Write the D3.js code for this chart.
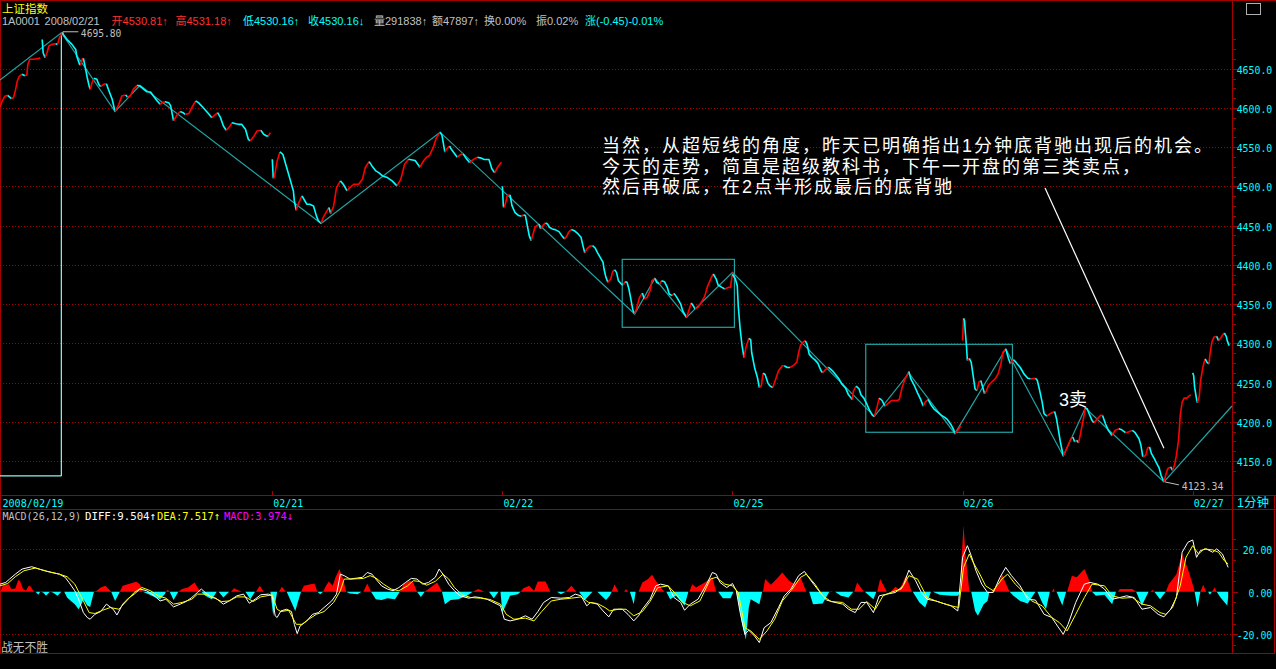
<!DOCTYPE html>
<html><head><meta charset="utf-8">
<script src="https://cdn.jsdelivr.net/npm/d3@7"></script>
<style>
html,body{margin:0;padding:0;background:#000;overflow:hidden}
svg{display:block;background:#000}
</style></head><body>
<svg id="c" width="1276" height="669"></svg>
<script>
// ===== DATA =====
const dateLabels = ["2008/02/19","02/21","02/22","02/25","02/26","02/27"];
const dateLabelDays = [0,2,3,4,5,6];        // day index (02/19=0, 02/20=1, ...)
const priceTicks = [4150,4200,4250,4300,4350,4400,4450,4500,4550,4600,4650];
const macdTicks = [20,0,-20];
// 1-minute prices, per trading day: [minute of day, price]
const p0219 = [[196,4601],[198,4608],[201,4615],[204,4616],[208,4612],[210,4613],[212,4622],[214,4634],[216,4640],[219,4643],[222,4641],[224,4642],[225,4655],[227,4662],[231,4662],[236,4663],[238,4664]];
const p0220 = [[0,4687.3],[1,4670.4],[3,4664],[5,4670.4],[7,4678.9],[10,4681],[14,4681.8],[16,4681],[18,4689.5],[21,4695.8],[22,4693.7],[26,4687.3],[31,4681],[35,4674.6],[36,4666.1],[39,4655.5],[40,4654.7],[42,4662.7],[43,4663.2],[45,4651.3],[47,4638.5],[49,4627.9],[50,4623.7],[52,4632.2],[54,4637.7],[57,4636.4],[59,4630.1],[61,4627.1],[64,4630.1],[67,4630.9],[69,4623.7],[73,4611],[76,4595.3],[80,4604.6],[83,4615.2],[87,4616.5],[89,4613.9],[92,4615.2],[95,4623.7],[99,4628.8],[102,4627.9],[106,4623.7],[109,4620.7],[113,4620.3],[116,4615.2],[120,4608.8],[123,4604.6],[125,4606.7],[128,4608],[132,4606.7],[134,4602.5],[137,4583.4],[141,4591.9],[144,4595.3],[147,4594],[149,4591.9],[153,4592.7],[156,4600.3],[160,4608.8],[163,4606.7],[168,4600.3],[174,4591.9],[177,4587.6],[181,4591.9],[183,4594],[186,4587.6],[189,4577],[192,4571.5],[196,4577],[198,4581.2],[202,4579.9],[205,4579.1],[208,4579.1],[212,4572.8],[215,4560],[217,4557.9],[221,4564.3],[224,4570.6],[228,4571.5],[231,4566.4],[234,4564.3],[236,4564.3],[238,4568.5]];
const p0221 = [[0,4534.6],[1,4510.4],[2,4511],[5,4532],[8,4543.9],[11,4540.9],[15,4524],[19,4507],[22,4494.2],[23,4481.5],[25,4469.6],[27,4477.3],[31,4487.9],[33,4483.6],[36,4477.3],[39,4477.3],[43,4475.1],[46,4462.4],[48,4456.1],[51,4452.7],[53,4460.3],[57,4468.8],[59,4473],[61,4465.4],[64,4475.1],[67,4498.5],[71,4507],[74,4502.7],[78,4494.2],[81,4498.5],[85,4502.7],[90,4502.7],[94,4509],[97,4524],[101,4531.6],[104,4526.1],[108,4519.7],[111,4517.6],[115,4513.3],[120,4511.2],[125,4507],[130,4500.6],[134,4509],[138,4528.2],[142,4534.6],[149,4533],[154,4524.5],[158,4533],[161,4537.2],[164,4539.4],[168,4550],[171,4561.5],[175,4569.1],[177,4564.9],[180,4543.6],[182,4547.9],[185,4551.3],[186,4548.7],[189,4543.6],[193,4537.2],[196,4540.2],[199,4541.5],[202,4536],[206,4530],[209,4533.8],[214,4537.2],[218,4536],[221,4534.3],[226,4534.3],[229,4522.4],[232,4517.3],[235,4524.5],[239,4530.9]];
const p0222 = [[0,4500.2],[1,4474.7],[2,4473.4],[4,4481.9],[5,4488.3],[8,4489.2],[10,4475.5],[13,4467],[17,4462.8],[20,4461.9],[22,4463.6],[24,4462.8],[26,4450],[28,4437.2],[30,4430.9],[32,4439.4],[34,4447.9],[38,4452.1],[40,4445.8],[42,4450],[45,4453.4],[47,4452.1],[49,4447.9],[52,4445.8],[55,4444.9],[59,4442.3],[62,4437.2],[65,4433],[67,4436.4],[69,4441.5],[72,4444.9],[75,4443.6],[79,4439.4],[82,4435.1],[84,4424.5],[86,4415.1],[88,4420.2],[91,4423.6],[94,4424.5],[97,4421.1],[99,4416],[102,4409.6],[105,4403.2],[106,4394.7],[108,4384.1],[110,4377.7],[113,4381.9],[115,4391.3],[117,4393.8],[119,4390.4],[121,4379.8],[124,4375.5],[126,4374.3],[128,4378.5],[130,4377.7],[132,4369.2],[134,4356.4],[136,4342.8],[138,4337.3],[140,4344.5],[143,4358.5],[146,4364],[148,4356.4],[151,4358.5],[154,4367],[156,4379.8],[159,4382.8],[161,4377.7],[164,4375.5],[166,4379.8],[169,4378.5],[172,4371.3],[174,4362.8],[177,4360.7],[179,4363.6],[182,4358.5],[186,4350],[188,4341.5],[192,4333],[194,4340.2],[197,4351.3],[199,4347.9],[201,4343.6],[204,4345.8],[207,4351.3],[211,4359.8],[214,4372.6],[218,4384.1],[220,4388.3],[223,4381.9],[225,4374.3],[229,4371.3],[232,4369.2],[236,4371.3],[238,4371.3],[240,4390.4]];
const p0225 = [[0,4388],[3,4382],[5,4373.4],[6,4347.9],[8,4318.1],[10,4296.8],[12,4281.9],[14,4294.7],[17,4306.2],[19,4304.5],[20,4288.3],[23,4269.2],[26,4256.4],[28,4243.6],[30,4245.8],[32,4261.9],[34,4260.2],[37,4249.2],[39,4245.8],[42,4243.6],[45,4254.3],[48,4264.9],[52,4271.3],[54,4271.3],[57,4269.2],[60,4269.2],[64,4272.2],[67,4275.6],[69,4288.3],[71,4297.7],[74,4301.9],[76,4303.2],[78,4297.7],[80,4286.2],[83,4281.9],[86,4278.9],[89,4274.7],[92,4266],[94,4262.3],[97,4266.5],[100,4269.5],[104,4265.3],[107,4261],[111,4254.7],[114,4248.3],[118,4242.8],[121,4234.3],[125,4228.4],[126,4238.6],[129,4245.3],[132,4242],[134,4234.3],[137,4230.1],[140,4222.9],[143,4214.4],[146,4208.1],[148,4206.8],[151,4219.9],[153,4230.1],[156,4227.1],[159,4219.9],[163,4224.2],[166,4227.1],[172,4227.1],[174,4228.4],[177,4244.1],[180,4254.7],[184,4264],[186,4254.7],[190,4245.3],[193,4236.9],[196,4229.2],[199,4219.9],[201,4225],[204,4228.4],[207,4221.6],[210,4216.5],[214,4212.3],[218,4208.1],[221,4205.9],[224,4203],[228,4196.2],[231,4189],[232,4184.8],[235,4189],[238,4194.5]];
const p0226 = [[0,4303.4],[1,4331.8],[2,4328.8],[3,4311.9],[4,4297],[5,4278],[7,4280.9],[9,4275.8],[11,4258.9],[13,4242],[15,4239.8],[17,4250.4],[19,4252.5],[21,4244.1],[23,4235.6],[25,4239.8],[27,4246.2],[31,4251.3],[34,4254.7],[37,4261],[40,4273.7],[42,4288.6],[45,4292.8],[46,4288.6],[48,4280.1],[50,4273.7],[53,4279.2],[55,4276.7],[57,4273.7],[60,4269.5],[62,4265.3],[64,4261],[68,4255.5],[71,4254.7],[76,4255.5],[78,4252.5],[80,4242],[83,4225],[85,4210.2],[88,4207.2],[91,4210.2],[95,4212.3],[96,4213.1],[98,4203.8],[100,4189],[102,4174.2],[105,4156.4],[107,4161.5],[110,4170],[113,4178.4],[115,4180.5],[117,4174.2],[119,4176.3],[121,4173.3],[123,4184.8],[126,4203.8],[128,4217.4],[130,4216.5],[132,4210.2],[135,4201.7],[137,4198.7],[140,4203],[144,4208.1],[146,4208.1],[149,4197.5],[152,4189],[156,4182.6],[159,4189],[163,4191.1],[166,4189.8],[170,4186],[173,4186.9],[177,4189],[180,4186],[184,4178.4],[186,4170],[188,4155.1],[191,4157.2],[193,4166.5],[195,4167.8],[197,4159.3],[200,4153],[202,4147.9],[205,4141.1],[207,4131.8],[210,4123.34],[212,4132.7],[214,4140.3],[217,4142.4],[219,4138.1],[221,4144.5],[223,4157.2],[225,4174.2],[226,4189],[227,4208.1],[229,4225],[231,4230.1],[234,4230.1],[236,4232.6],[238,4234.3]];
const p0227 = [[0,4262.3],[1,4259],[2,4244.1],[4,4229.2],[5,4224.2],[7,4233.5],[8,4250.4],[10,4265.3],[11,4271.6],[13,4280.1],[15,4275.8],[17,4273.7],[18,4286.4],[20,4301.3],[22,4307.6],[25,4308.9],[27,4303.4],[29,4306.4],[32,4311.9],[33,4313.1],[35,4308.9],[36,4303.4],[38,4297]];
const priceDays = [p0219,p0220,p0221,p0222,p0225,p0226,p0227];
// stroke ("bi") line vertices: [minute index from first visible minute, price]
const strokeLine = [[0,4635.6],[64,4695.8],[120,4595.3],[146,4628.8],[335,4452.7],[459,4569.1],[662,4337.3],[683,4382.8],[716,4333],[764,4390.4],[912,4206.8],[948,4262],[996,4184.8],[1049,4292.8],[1109,4156.4],[1132,4217.4],[1214,4123.34],[1285,4220.1]];
// centre boxes: [start minute, end minute, high, low]
const centerBoxes = [[649,766,4407,4320.4],[903,1056,4298.7,4186.6]];
const arrowLine = [[1090,4497.9],[1214,4166.2]];
const cursorMinute = 64, cursorPrice = 4130.9;
const highMark = [64,4695.80], lowMark = [1214,4123.34];
// MACD: [minute index, value]
const macdHist = [[0,0],[1,0.5],[3,3.1],[6,3.1],[9,3.6],[12,1.3],[16,1.5],[19,5.5],[21,5.0],[24,1.3],[27,0.5],[30,2.8],[32,2.5],[35,0.3],[37,0],[40,-1.4],[42,0],[45,-0.3],[48,-1.9],[52,0],[55,-0.3],[60,-1.9],[64,0],[67,0],[70,-2.7],[74,-4.3],[78,-5.8],[82,-8.2],[85,-5.8],[87,-3.5],[91,-6.5],[94,-7.2],[98,0],[101,0.5],[105,2.0],[110,2.8],[116,0],[120,-4.3],[125,0],[128,2.8],[136,3.9],[142,4.7],[146,3.6],[149,0],[155,-1.1],[161,-2.4],[167,-3.5],[172,-1],[173,0],[175,1.0],[177,0],[181,-3.9],[186,0],[190,1.3],[196,2.0],[203,4.4],[206,2.0],[210,0],[214,-1.9],[221,-3.5],[226,0],[228,0],[233,-2.7],[239,0],[241,0],[244,1.7],[252,0],[256,0],[261,-3.5],[266,0],[267,0],[271,2.8],[275,0],[282,0],[285,-11.3],[289,0],[291,0],[294,2.4],[298,0],[299,0],[303,-4.0],[308,-9.0],[311,-4.3],[314,0],[317,2.8],[324,3.6],[328,3.9],[331,0],[334,-1.1],[337,0],[340,2.8],[343,4.9],[347,2.8],[350,6.8],[354,10.7],[358,5.9],[361,0],[365,-0.8],[373,-1.1],[377,0],[379,0],[383,3.9],[387,0],[392,-3.5],[398,-3.9],[404,-3.0],[412,-3.5],[417,0],[421,3.6],[427,5.2],[431,4.4],[435,0],[439,-2.4],[443,0],[449,2.0],[456,4.4],[461,0],[464,-5.8],[470,-3.9],[478,-3.5],[487,-1.9],[493,0],[499,1.3],[505,0],[510,0],[515,-3.0],[520,0],[522,0],[524,-9.8],[532,-1.9],[540,-1.1],[543,0],[546,1.7],[552,2.8],[557,0.5],[561,4.9],[569,4.9],[574,0],[581,0],[585,-1.1],[590,0],[596,2.8],[601,0],[604,0],[610,-3.9],[618,0],[623,0],[632,-3.9],[636,-1.9],[638,0],[641,3.6],[645,0],[651,0],[653,1.3],[655,0],[657,0],[661,-5.8],[663,0],[666,0],[670,4.4],[676,6.0],[680,8.0],[684,5.2],[689,2.0],[693,0],[695,0],[699,-3.5],[705,-1.9],[714,-6.5],[718,0],[719,0],[722,3.6],[726,2.0],[735,4.4],[743,6.8],[747,0],[749,0],[754,-3.0],[762,-3.0],[765,0],[768,0],[770,-4.3],[774,-15.3],[778,-22.4],[781,-7.4],[783,-3.5],[789,-5.0],[792,-5.8],[795,0],[796,0.5],[798,6.0],[804,3.3],[810,6.0],[816,9.1],[823,5.2],[829,3.6],[835,6.8],[841,0],[844,0],[848,-5.8],[858,-5.5],[865,0],[867,0.3],[869,0],[871,0],[877,-1.9],[885,-2.7],[890,0],[891,0],[894,4.4],[901,0],[902,0],[911,-3.5],[914,0],[915,0],[918,6.0],[925,0],[929,0],[934,2.4],[938,1.0],[945,7.6],[951,0],[952,0],[959,-5.0],[965,-7.4],[971,0],[973,0],[980,-1.4],[992,-1.9],[999,-1.9],[1002,0],[1003,16.2],[1005,31.2],[1007,17.8],[1011,0.5],[1013,0],[1017,-9.0],[1020,-11.3],[1026,-5.8],[1030,-4.3],[1032,0],[1034,0],[1036,1.3],[1041,2.8],[1045,8.3],[1051,2.0],[1053,0],[1057,-1.9],[1064,-4.3],[1072,-5.5],[1080,0],[1082,0],[1087,-5.0],[1091,-8.2],[1095,0],[1097,0],[1099,1.6],[1100,0],[1102,0],[1108,-6.5],[1112,0],[1113,0],[1118,7.6],[1123,6.8],[1131,10.7],[1137,4.4],[1139,0],[1143,-1.9],[1152,-1.4],[1160,-5.8],[1164,0],[1166,0],[1168,1.3],[1181,1.3],[1185,0],[1191,-6.5],[1198,0],[1200,0],[1202,0.8],[1204,0],[1210,-3.5],[1216,0],[1219,3.6],[1227,8.3],[1233,17.8],[1239,10.7],[1244,3.6],[1246,0],[1249,-7.4],[1252,0],[1255,3.3],[1258,0],[1260,0],[1262,-1.4],[1264,0],[1267,2.0],[1269,0],[1273,-2.7],[1280,-6.5],[1281,-2.7]];
const macdDiff = [[0,3.6],[6,4.4],[10,6.0],[16,8.3],[23,10.7],[33,11.8],[41,10.7],[47,9.9],[54,9.1],[62,8.3],[68,6.8],[72,4.4],[78,0.5],[82,-3.5],[87,-9.8],[91,-12.1],[94,-12.9],[99,-10.6],[105,-9.3],[111,-5.8],[118,-8.2],[122,-10.9],[128,-5.8],[134,-3.0],[140,-1.1],[146,1.3],[153,0.5],[161,-1.9],[167,-4.3],[173,-3.5],[181,-7.1],[188,-5.8],[194,-4.6],[200,-2.7],[206,-0.3],[210,1.3],[214,-0.3],[221,-2.7],[225,-3.0],[233,-5.8],[239,-4.3],[247,-1.9],[254,-1.1],[260,-5.4],[266,-3.5],[272,-1.4],[280,-1.1],[284,-1.9],[287,-11.3],[289,-12.1],[293,-9.0],[299,-8.2],[304,-9.3],[307,-15.3],[310,-19.7],[313,-16.1],[320,-13.7],[326,-10.6],[332,-9.8],[338,-7.4],[346,-4.3],[351,-1.1],[355,8.3],[359,7.6],[365,6.0],[373,6.5],[378,6.8],[383,9.1],[388,8.3],[392,6.0],[398,2.8],[404,1.3],[410,0.5],[416,2.0],[423,4.4],[429,6.3],[435,6.0],[441,3.6],[447,4.4],[454,6.8],[458,10.7],[462,8.3],[468,3.6],[474,0.5],[480,-1.9],[489,-3.0],[495,-2.4],[501,-2.7],[508,-3.5],[513,-4.6],[522,-6.6],[526,-12.9],[532,-13.7],[540,-12.9],[548,-11.3],[555,-12.9],[561,-9.3],[567,-5.0],[575,-2.7],[585,-3.0],[594,-2.7],[600,-1.1],[606,-1.9],[612,-6.6],[616,-5.0],[623,-5.8],[629,-9.0],[635,-11.8],[640,-8.2],[649,-8.2],[655,-10.6],[661,-13.7],[666,-11.3],[670,-8.2],[678,-3.5],[684,2.8],[689,3.6],[697,2.8],[703,-2.7],[710,-5.0],[714,-8.7],[720,-5.8],[728,-3.5],[737,3.6],[743,9.1],[747,8.3],[751,4.4],[758,2.0],[764,3.9],[768,0.5],[772,-9.8],[777,-20.0],[781,-18.1],[787,-20.8],[792,-23.9],[797,-16.9],[804,-14.5],[812,-7.4],[818,-1.9],[825,1.3],[833,7.6],[839,9.6],[846,5.2],[854,0.5],[862,-3.9],[871,-5.0],[879,-5.8],[885,-8.2],[892,-9.8],[898,-5.0],[904,-5.0],[911,-9.8],[917,-1.9],[925,-1.1],[934,-0.3],[942,2.8],[948,10.2],[955,5.2],[961,-0.3],[967,-3.5],[976,-4.3],[984,-5.5],[992,-6.6],[999,-9.0],[1004,16.2],[1009,21.7],[1013,17.0],[1018,9.9],[1024,3.6],[1030,-0.3],[1036,-0.3],[1043,6.8],[1049,11.5],[1055,7.6],[1064,2.8],[1072,-3.5],[1080,-3.9],[1089,-10.6],[1097,-12.1],[1103,-16.1],[1109,-20.0],[1114,-15.3],[1122,-5.0],[1131,3.6],[1137,4.4],[1145,3.6],[1152,1.3],[1160,-3.5],[1168,-2.7],[1175,-1.9],[1183,-2.7],[1191,-8.2],[1200,-7.4],[1208,-10.6],[1214,-11.8],[1221,-8.2],[1227,-2.7],[1233,18.6],[1239,23.3],[1244,24.4],[1248,16.2],[1252,19.4],[1258,20.2],[1265,18.6],[1269,20.2],[1275,17.8],[1281,11.5]];
const macdDea = [[0,2.8],[8,3.9],[16,7.1],[25,9.9],[37,11.2],[49,9.6],[62,8.3],[70,7.1],[78,3.6],[87,-4.3],[93,-9.8],[99,-10.2],[107,-8.7],[115,-7.4],[124,-8.2],[132,-4.3],[140,-0.3],[148,2.0],[157,0.5],[165,-1.9],[173,-3.0],[181,-5.8],[190,-5.0],[200,-3.5],[206,-1.1],[214,-1.1],[223,-2.7],[231,-4.6],[239,-4.3],[247,-2.4],[256,-2.4],[264,-4.6],[272,-2.4],[284,-1.4],[289,-8.2],[293,-9.3],[301,-8.7],[309,-15.3],[315,-15.3],[322,-12.9],[330,-10.6],[338,-9.3],[348,-5.0],[355,0.5],[359,6.0],[367,6.0],[379,6.3],[386,7.6],[392,6.5],[400,3.6],[408,1.3],[416,0.5],[425,2.8],[431,5.2],[437,4.9],[445,3.1],[454,4.9],[462,8.3],[468,6.0],[474,2.0],[482,-1.4],[491,-2.7],[501,-3.0],[511,-3.6],[522,-5.8],[528,-10.6],[536,-12.9],[548,-12.4],[557,-13.7],[565,-9.3],[575,-4.3],[585,-3.5],[596,-3.0],[606,-2.4],[614,-5.0],[623,-5.5],[631,-7.4],[636,-9.0],[645,-8.2],[653,-8.2],[661,-11.3],[670,-9.3],[678,-4.6],[686,2.0],[697,2.8],[705,-1.1],[712,-5.0],[720,-6.6],[730,-4.3],[741,6.0],[747,6.8],[756,3.6],[764,2.8],[770,-0.3],[777,-16.9],[783,-18.4],[792,-22.4],[800,-18.4],[808,-12.9],[816,-4.3],[825,0.5],[835,6.8],[841,8.3],[850,3.6],[858,-1.9],[867,-4.6],[879,-5.0],[888,-8.2],[896,-8.2],[904,-4.6],[913,-8.2],[921,-1.9],[929,-0.3],[940,1.3],[948,7.6],[957,6.0],[967,-2.7],[976,-4.3],[984,-5.5],[992,-6.6],[1000,-7.4],[1005,11.5],[1011,17.8],[1015,13.9],[1022,8.3],[1028,2.8],[1036,0.5],[1045,6.0],[1051,8.3],[1059,3.6],[1068,-0.3],[1076,-4.3],[1087,-6.6],[1097,-12.1],[1105,-14.5],[1113,-18.4],[1122,-10.6],[1131,-2.7],[1139,3.6],[1152,2.8],[1160,-1.9],[1170,-3.0],[1181,-2.7],[1191,-5.8],[1200,-6.6],[1210,-9.8],[1216,-10.6],[1223,-7.4],[1231,2.8],[1237,16.2],[1244,21.7],[1250,17.8],[1256,20.2],[1265,19.7],[1271,18.6],[1277,14.6],[1281,13.1]];
const noteLines = ["当然，从超短线的角度，昨天已明确指出1分钟底背驰出现后的机会。","今天的走势，简直是超级教科书，下午一开盘的第三类卖点，","然后再破底，在2点半形成最后的底背驰"];
const sellLabel = "3卖";
const titleText = "上证指数";
const headerParts = [["1A0001","#c0c0c0"],["2008/02/21","#c0c0c0"],["开4530.81↑","#ff3030"],["高4531.18↑","#ff3030"],["低4530.16↑","#00ffff"],["收4530.16↓","#00ffff"],["量291838↑","#c0c0c0"],["额47897↑","#c0c0c0"],["换0.00%","#c0c0c0"],["振0.02%","#c0c0c0"],["涨(-0.45)-0.01%","#00ffff"]];
const macdHeader = [["MACD(26,12,9)","#c0c0c0"],["DIFF:9.504↑","#ffffff"],["DEA:7.517↑","#ffff00"],["MACD:3.974↓","#ff00ff"]];
const footerText = "战无不胜";
const periodText = "1分钟";

// ===== LAYOUT =====
const DARK = "#a40000", TEAL = "#22a3a3", RED = "#ff0000", CYAN = "#00ffff";
const AX = 1232.5;
const svg = d3.select("#c");
const x = d3.scaleLinear().domain([0,1285]).range([0,1232]);
const y = d3.scaleLinear().domain([4300,4650]).range([343.3,68.7]);
const ym = d3.scaleLinear().domain([-20,20]).range([634.3,549.3]);
const dayOff = d => d*240 - 196;
const CJK = "'Liberation Sans','Noto Sans CJK SC',sans-serif";
const MONO = "'DejaVu Sans Mono','Liberation Mono',monospace";

function hline(y0,x0,x1,col,dash){svg.append("line").attr("x1",x0).attr("x2",x1).attr("y1",y0).attr("y2",y0).attr("stroke",col).attr("stroke-width",1).attr("shape-rendering","crispEdges").attr("stroke-dasharray",dash||null);}
function vline(x0,y0,y1,col){svg.append("line").attr("x1",x0).attr("x2",x0).attr("y1",y0).attr("y2",y1).attr("stroke",col).attr("stroke-width",1).attr("shape-rendering","crispEdges");}
function text(s,x0,x1,yb,col,size,fam){const t=svg.append("text").attr("x",x0).attr("y",yb).attr("fill",col).attr("font-size",size).attr("font-family",fam||CJK).text(s);if(x1!=null)t.attr("textLength",x1-x0).attr("lengthAdjust","spacingAndGlyphs");return t;}

// grid
priceTicks.forEach(v=>hline(Math.round(y(v))+0.5,0,AX,DARK,"1,2"));
[20,-20].forEach(v=>hline(Math.round(ym(v))+0.5,0,AX,DARK,"1,2"));

// frame
hline(0.5,0,1276,DARK);
vline(0.5,0,654,DARK);
vline(AX,0,654,DARK);
hline(495.5,0,1276,DARK);
hline(509.5,0,1276,DARK);
hline(653.5,0,1275,DARK);
vline(1274.5,495,654,DARK);

// right axis ticks and labels
for(let v=4137.5; v<=4687.5; v+=12.5){const yy=Math.round(y(v))+0.5; if(yy<30||yy>492)continue; hline(yy,AX,AX+3,DARK);}
priceTicks.forEach(v=>{const yy=Math.round(y(v))+0.5; hline(yy,AX,AX+5,DARK); text(v.toFixed(1),1236.7,1272.3,yy+4,CYAN,11,MONO);});
for(let v=-25; v<=25; v+=5){const yy=Math.round(ym(v))+0.5; if(yy<512||yy>651)continue; hline(yy,AX,AX+3,DARK);}
macdTicks.forEach(v=>{const yy=Math.round(ym(v))+0.5; hline(yy,AX,AX+5,DARK); const s=v.toFixed(2); text(s,1272.3-s.length*5.93,1272.3,yy+4,CYAN,11,MONO);});

// date axis
dateLabels.forEach((s,k)=>{const d=dateLabelDays[k]; const xx = d===0 ? 0 : x(dayOff(d));
  if(d!==0) vline(Math.round(xx)+0.5,491,496,DARK);
  text(s, xx+(d===0?2.4:1), xx+(d===0?63.5:31), 507, CYAN, 11, MONO);});
text(periodText,1237,1269,507,CYAN,12);

// centre boxes
centerBoxes.forEach(b=>svg.append("rect").attr("x",x(b[0])).attr("y",y(b[2])).attr("width",x(b[1])-x(b[0])).attr("height",y(b[3])-y(b[2])).attr("fill","none").attr("stroke",TEAL).attr("stroke-width",1.2));
// stroke line
svg.append("path").datum(strokeLine).attr("d",d3.line().x(d=>x(d[0])).y(d=>y(d[1]))).attr("fill","none").attr("stroke",TEAL).attr("stroke-width",1.2);

// cursor
svg.append("line").attr("x1",x(cursorMinute)).attr("x2",x(cursorMinute)).attr("y1",y(highMark[1])).attr("y2",y(cursorPrice)).attr("stroke","#8ff4f4").attr("stroke-width",1.2);
svg.append("line").attr("x1",0).attr("x2",x(cursorMinute)).attr("y1",y(cursorPrice)).attr("y2",y(cursorPrice)).attr("stroke","#8ff4f4").attr("stroke-width",1.2);

// price line, red up / cyan down
const lineGen = d3.line().x(d=>x(d[0])).y(d=>y(d[1]));
priceDays.forEach((arr,d)=>{
  const off=dayOff(d); const pts=arr.map(p=>[p[0]+off,p[1]]);
  let run=[pts[0]], col=null;
  for(let k=1;k<pts.length;k++){
    const c = pts[k][1]>pts[k-1][1] ? RED : (pts[k][1]<pts[k-1][1] ? CYAN : (col||RED));
    if(col!==null && c!==col){svg.append("path").attr("d",lineGen(run)).attr("fill","none").attr("stroke",col).attr("stroke-width",1.6).attr("stroke-linejoin","round"); run=[pts[k-1]];}
    col=c; run.push(pts[k]);
  }
  if(run.length>1) svg.append("path").attr("d",lineGen(run)).attr("fill","none").attr("stroke",col).attr("stroke-width",1.6).attr("stroke-linejoin","round");
});

// high/low marks
{const hx=x(highMark[0]), hy=y(highMark[1]);
 svg.append("polyline").attr("points",`${hx+1.5},${hy+2} ${hx+1.5},${hy-1} ${hx+17},${hy-1}`).attr("fill","none").attr("stroke","#c0c0c0").attr("stroke-width",1);
 text(highMark[1].toFixed(2),hx+19.5,hx+60,hy+4,"#c0c0c0",10,MONO);
 const lx=x(lowMark[0]), ly=y(lowMark[1]);
 svg.append("polyline").attr("points",`${lx+1},${ly} ${lx+15},${ly+3}`).attr("fill","none").attr("stroke","#c0c0c0").attr("stroke-width",1);
 text(lowMark[1].toFixed(2),lx+17.8,lx+59.4,ly+8,"#c0c0c0",11,MONO);}

// annotation
svg.append("line").attr("x1",x(arrowLine[0][0])).attr("y1",y(arrowLine[0][1])).attr("x2",x(arrowLine[1][0])).attr("y2",y(arrowLine[1][1])).attr("stroke","#ffffff").attr("stroke-width",1.2);
noteLines.forEach((s,k)=>svg.append("text").attr("x",602).attr("y",152+k*20.5).attr("fill","#ffffff").attr("font-size",18).attr("font-family",CJK).attr("letter-spacing",2).text(s));
text(sellLabel,1059,null,406,"#ffffff",18);

// MACD
const areaPos=d3.area().x(d=>x(d[0])).y0(ym(0)).y1(d=>ym(Math.max(0,d[1])));
const areaNeg=d3.area().x(d=>x(d[0])).y0(ym(0)).y1(d=>ym(Math.min(0,d[1])));
svg.append("path").datum(macdHist).attr("d",areaPos).attr("fill",RED);
svg.append("path").datum(macdHist).attr("d",areaNeg).attr("fill",CYAN);
const ml=d3.line().x(d=>x(d[0])).y(d=>ym(d[1]));
svg.append("path").datum(macdDiff).attr("d",ml).attr("fill","none").attr("stroke","#ffffff").attr("stroke-width",1);
svg.append("path").datum(macdDea).attr("d",ml).attr("fill","none").attr("stroke","#ffff00").attr("stroke-width",1);

// header texts
text(titleText,2,null,12.5,"#ffff00",11.5);
const hdrX=[2,44.6,111.6,175.5,243,308,374,432,484,536,585];
{const t=svg.append("text").attr("font-size",11).attr("font-family",CJK);
 headerParts.forEach((p,k)=>t.append("tspan").attr("x",hdrX[k]).attr("y",25).attr("fill",p[1]).text(p[0]));}
const mhX=[[2.4,81],[85,156],[157,220],[224,293]];
macdHeader.forEach((p,k)=>text(p[0],mhX[k][0],mhX[k][1],519.5,p[1],11,MONO));
text(footerText,1,48,652,"#c0c0c0",12);
svg.append("rect").attr("x",1246.5).attr("y",3.5).attr("width",14).attr("height",11).attr("fill","none").attr("stroke","#b0b0b0").attr("stroke-width",1);
</script></body></html>
